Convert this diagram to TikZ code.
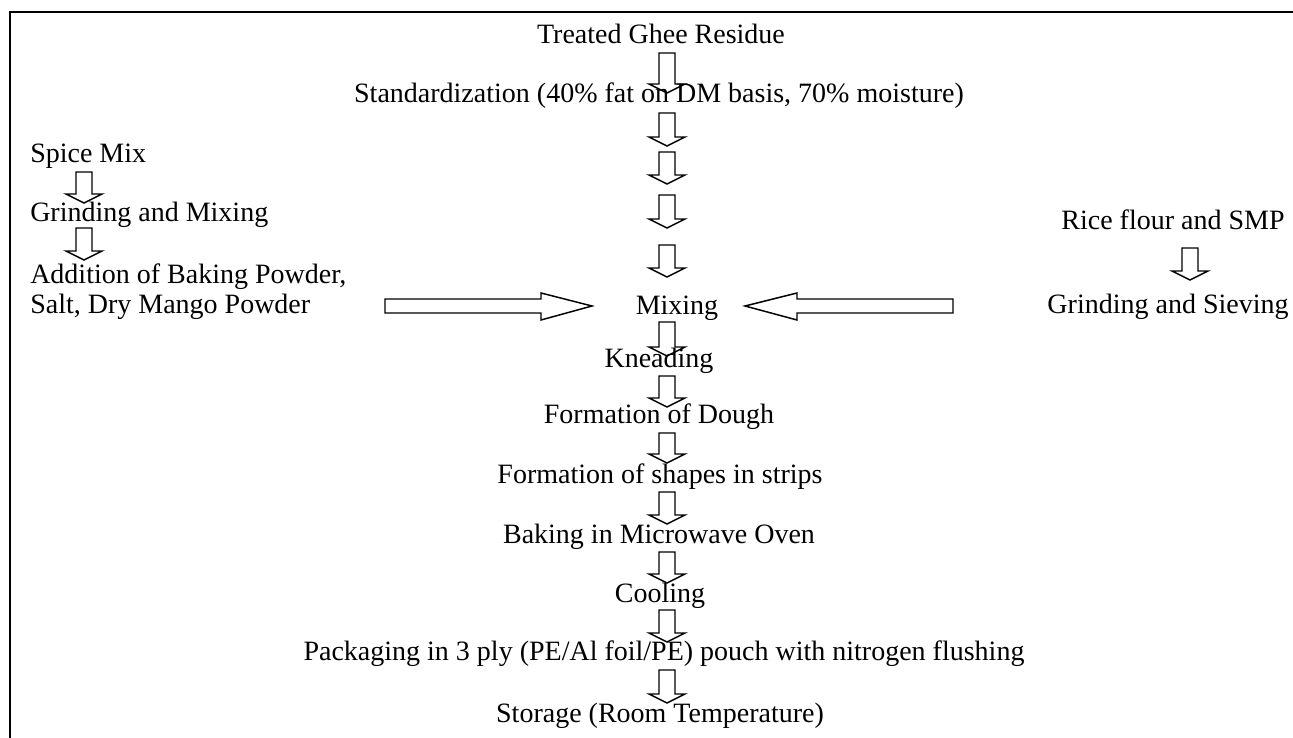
\documentclass[tikz,border=0pt]{standalone}
\usepackage{fontspec}
\setmainfont{Liberation Serif}
\begin{document}
\begin{tikzpicture}[x=0.75pt,y=-0.75pt]
\tikzset{
  lbl/.style={font=\fontsize{21}{25}\selectfont, inner sep=0pt, anchor=base},
  lbll/.style={lbl, anchor=base west},
  blk/.style={draw=black, line width=1.1pt, line join=miter},
}
\newcommand\vdarrow[3]{%
  \draw[blk] (#1-8,#2) -- (#1+8,#2) -- (#1+8,#3-9) -- (#1+18,#3-9) -- (#1,#3) -- (#1-18,#3-9) -- (#1-8,#3-9) -- cycle;}
\useasboundingbox (0,0) rectangle (1293,738);
% frame
\draw[line width=1.5pt] (10,738) -- (10,12) -- (1293,12);
% centre column
\node[lbl] (tgr) at (661,44) {Treated Ghee Residue};
\node[lbl] (std) at (659,103) {Standardization (40\% fat on DM basis, 70\% moisture)};
\node[lbl] (mix) at (677,315) {Mixing};
\node[lbl] (knd) at (659,367) {Kneading};
\node[lbl] (dgh) at (659,423) {Formation of Dough};
\node[lbl] (shp) at (660,483) {Formation of shapes in strips};
\node[lbl] (bak) at (659,543) {Baking in Microwave Oven};
\node[lbl] (col) at (660,602) {Cooling};
\node[lbl] (pkg) at (664,660) {Packaging in 3 ply (PE/Al foil/PE) pouch with nitrogen flushing};
\node[lbl] (sto) at (660,722) {Storage (Room Temperature)};
% left column
\node[lbll] (spc) at (30,163) {Spice Mix};
\node[lbll] (grm) at (30,222) {Grinding and Mixing};
\node[lbll] (add1) at (30,283) {Addition of Baking Powder,};
\node[lbll] (add2) at (30,313) {Salt, Dry Mango Powder};
% right column
\node[lbl] (rice) at (1173,229) {Rice flour and SMP};
\node[lbl] (grs) at (1168,313) {Grinding and Sieving};
% vertical block arrows, centre
\vdarrow{667}{53}{93}
\vdarrow{667}{113}{146}
\vdarrow{667}{152}{184}
\vdarrow{667}{195}{228}
\vdarrow{667}{245}{277}
\vdarrow{667}{322}{356}
\vdarrow{667}{376}{407}
\vdarrow{667}{433}{463}
\vdarrow{667}{492}{524}
\vdarrow{667}{552}{583}
\vdarrow{667}{610}{642}
\vdarrow{667}{670}{703}
% left and right
\vdarrow{84}{172}{203}
\vdarrow{84}{228}{260}
\vdarrow{1190}{248}{280}
% horizontal block arrows into Mixing
\draw[blk] (385,299) -- (541,299) -- (541,293) -- (592,306) -- (541,320) -- (541,313) -- (385,313) -- cycle;
\draw[blk] (953,299) -- (797,299) -- (797,293) -- (745,306) -- (797,320) -- (797,313) -- (953,313) -- cycle;
\end{tikzpicture}
\end{document}
